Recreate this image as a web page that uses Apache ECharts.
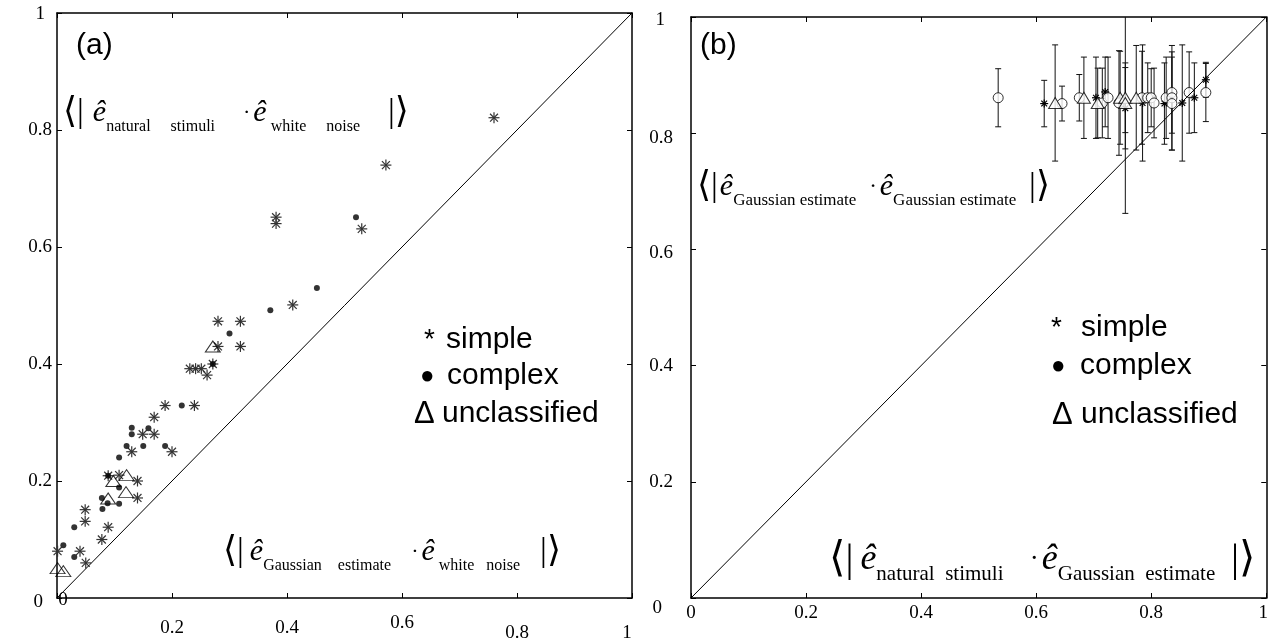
<!DOCTYPE html>
<html>
<head>
<meta charset="utf-8">
<script src="https://cdn.jsdelivr.net/npm/echarts@6/dist/echarts.min.js"></script>
<style>
html, body { margin: 0; padding: 0; background: #fff; }
#main { width: 1271px; height: 643px; }
</style>
</head>
<body>
<div id="main"></div>
<script>
'use strict';

// tick values (both panels)
var ticks = [0, 0.2, 0.4, 0.6, 0.8, 1];

// (a) white noise vs natural stimuli
var simpleA = [
    [0.760, 0.821], [0.572, 0.740], [0.381, 0.651], [0.381, 0.640], [0.530, 0.631], [0.410, 0.501],
    [0.280, 0.473], [0.319, 0.473], [0.280, 0.430], [0.319, 0.430],
    [0.231, 0.392], [0.241, 0.392], [0.251, 0.392], [0.261, 0.381], [0.271, 0.400],
    [0.188, 0.329], [0.239, 0.329], [0.169, 0.309], [0.149, 0.280], [0.169, 0.280],
    [0.130, 0.250], [0.200, 0.250], [0.089, 0.209], [0.108, 0.210], [0.140, 0.200], [0.140, 0.171],
    [0.049, 0.151], [0.049, 0.131], [0.089, 0.121], [0.078, 0.100], [0.040, 0.080], [0.001, 0.080], [0.050, 0.060]
];
var complexA = [
    [0.520, 0.651], [0.452, 0.530], [0.371, 0.492], [0.300, 0.452], [0.271, 0.400], [0.217, 0.329],
    [0.130, 0.291], [0.130, 0.280], [0.159, 0.290], [0.121, 0.260], [0.150, 0.260], [0.188, 0.260],
    [0.108, 0.240], [0.089, 0.209], [0.108, 0.189], [0.078, 0.171], [0.088, 0.162], [0.108, 0.161],
    [0.079, 0.152], [0.030, 0.121], [0.011, 0.090], [0.030, 0.070]
];
var unclassA = [
    [0.271, 0.430], [0.121, 0.210], [0.098, 0.200], [0.120, 0.181], [0.089, 0.170], [0.001, 0.051], [0.011, 0.046]
];

// (b) x, y, error
var simpleB = [
    [0.614, 0.851, 0.04], [0.704, 0.861, 0.07], [0.720, 0.871, 0.06], [0.755, 0.843, 0.07], [0.785, 0.852, 0.10],
    [0.823, 0.851, 0.07], [0.854, 0.852, 0.10], [0.875, 0.861, 0.06], [0.895, 0.892, 0.03]
];
var complexB = [
    [0.534, 0.861, 0.05], [0.645, 0.851, 0.03], [0.675, 0.861, 0.04], [0.715, 0.852, 0.06], [0.725, 0.861, 0.07],
    [0.744, 0.852, 0.09], [0.784, 0.861, 0.08], [0.794, 0.861, 0.06], [0.800, 0.861, 0.05], [0.805, 0.852, 0.06],
    [0.826, 0.861, 0.07], [0.836, 0.870, 0.07], [0.836, 0.861, 0.09], [0.836, 0.851, 0.08], [0.866, 0.870, 0.07],
    [0.895, 0.870, 0.05]
];
var unclassB = [
    [0.633, 0.852, 0.10], [0.683, 0.861, 0.07], [0.707, 0.852, 0.06], [0.746, 0.861, 0.08], [0.755, 0.861, 0.06],
    [0.755, 0.852, 0.19], [0.774, 0.861, 0.09]
];

var diag = [[0, 0], [1, 1]];

var serif = 'Liberation Serif';
var sans = 'Liberation Sans';

var myChart = echarts.init(document.getElementById('main'));

// 每个刻度标签单独的偏移
function labelRich(pads, align) {
    var rich = {};
    ticks.forEach(function(t, i) {
        rich['p' + i] = {
            fontFamily: serif, fontSize: 19, color: '#000', align: align,
            padding: pads[i]
        };
    });
    return rich;
}
function labelFmt(v) {
    var i = Math.round(v * 5);
    return '{p' + i + '|' + (+v.toFixed(1)) + '}';
}

var axLine = { onZero: false, lineStyle: { color: '#000', width: 1.5 } };
var axTick = { inside: true, length: 5, lineStyle: { color: '#000' } };

function xAxes(gi, pads, margin) {
    return [{
        gridIndex: gi, type: 'value', min: 0, max: 1, interval: 0.2, position: 'bottom',
        axisLine: axLine, axisTick: axTick, splitLine: { show: false },
        axisLabel: { margin: margin, formatter: labelFmt, rich: labelRich(pads, 'center'), showMinLabel: true, showMaxLabel: true }
    }, {
        gridIndex: gi, type: 'value', min: 0, max: 1, interval: 0.2, position: 'top',
        axisLine: axLine, axisTick: axTick, splitLine: { show: false }, axisLabel: { show: false }
    }];
}
function yAxes(gi, pads, margin) {
    return [{
        gridIndex: gi, type: 'value', min: 0, max: 1, interval: 0.2, position: 'left',
        axisLine: axLine, axisTick: axTick, splitLine: { show: false },
        axisLabel: { margin: margin, formatter: labelFmt, rich: labelRich(pads, 'right'), showMinLabel: true, showMaxLabel: true }
    }, {
        gridIndex: gi, type: 'value', min: 0, max: 1, interval: 0.2, position: 'right',
        axisLine: axLine, axisTick: axTick, splitLine: { show: false }, axisLabel: { show: false }
    }];
}

function starRender(r, color) {
    return function(params, api) {
        var p = api.coord([api.value(0), api.value(1)]);
        var d = r * 0.72;
        var segs = [[0, -r, 0, r], [-r, 0, r, 0], [-d, -d, d, d], [-d, d, d, -d]];
        return {
            type: 'group',
            children: segs.map(function(s) {
                return {
                    type: 'line',
                    shape: { x1: p[0] + s[0], y1: p[1] + s[1], x2: p[0] + s[2], y2: p[1] + s[3] },
                    style: { stroke: color, lineWidth: 1.2 }
                };
            })
        };
    };
}

function errRender(params, api) {
    var x = api.value(0), y = api.value(1), e = api.value(2);
    var t = api.coord([x, y + e]), b = api.coord([x, y - e]);
    var w = 3;
    return {
        type: 'group',
        children: [
            { type: 'line', shape: { x1: t[0], y1: t[1], x2: b[0], y2: b[1] }, style: { stroke: '#111', lineWidth: 1 } },
            { type: 'line', shape: { x1: t[0] - w, y1: t[1], x2: t[0] + w, y2: t[1] }, style: { stroke: '#111', lineWidth: 1 } },
            { type: 'line', shape: { x1: b[0] - w, y1: b[1], x2: b[0] + w, y2: b[1] }, style: { stroke: '#111', lineWidth: 1 } }
        ]
    };
}

// ⟨| ê_sub1 · ê_sub2 |⟩
function bracket(x, y, sub1, sub2, eSize, sSize, gap) {
    var lh = eSize + 14;
    return {
        type: 'text', x: x, y: y,
        style: {
            text: '{a|⟨}{v||}{e|ê}{s|' + sub1 + '}{d|·}{e|ê}{s|' + sub2 + '}{w||}{a|⟩}',
            verticalAlign: 'middle',
            fontFamily: serif, fontSize: sSize, fill: '#000',
            rich: {
                a: { fontFamily: 'DejaVu Serif', fontSize: eSize + 6, lineHeight: lh, verticalAlign: 'middle' },
                v: { fontFamily: serif, fontSize: eSize + 4, lineHeight: lh, verticalAlign: 'middle', padding: [0, gap, 0, 0] },
                w: { fontFamily: serif, fontSize: eSize + 4, lineHeight: lh, verticalAlign: 'middle' },
                e: { fontFamily: serif, fontStyle: 'italic', fontSize: eSize, lineHeight: lh, verticalAlign: 'middle' },
                d: { fontFamily: serif, fontSize: sSize + 6, lineHeight: lh, verticalAlign: 'middle', padding: [0, 3, 0, 0] },
                s: { fontFamily: serif, fontSize: sSize, lineHeight: sSize + 14, verticalAlign: 'bottom' }
            }
        }
    };
}

function legendText(x, y, glyph, label, glyphSize, glyphW) {
    return {
        type: 'text', x: x, y: y,
        style: {
            text: '{g|' + glyph + '}{t|' + label + '}',
            verticalAlign: 'middle',
            rich: {
                g: { fontFamily: sans, fontSize: glyphSize, width: glyphW, align: 'left', verticalAlign: 'middle' },
                t: { fontFamily: sans, fontSize: 30, verticalAlign: 'middle' }
            },
            fill: '#000'
        }
    };
}

var option = {
    animation: false,
    backgroundColor: '#fff',
    grid: [
        { left: 57, top: 13, width: 575, height: 586 },
        { left: 691, top: 17, width: 577, height: 581 }
    ],
    xAxis: xAxes(0, [[-2, 0, 0, 12], [26, 0, 0, 0], [26, 0, 0, 0], [21, 0, 0, 0], [31, 0, 0, 0], [31, 10, 0, 0]], -5)
        .concat(xAxes(1, [[0, 0, 0, 0], [0, 0, 0, 0], [0, 0, 0, 0], [0, 0, 0, 0], [0, 0, 0, 0], [0, 6, 0, 0]], 6)),
    yAxis: yAxes(0, [[8, 9, 0, 0], [0, 0, 0, 0], [0, 0, 0, 0], [0, 0, 0, 0], [0, 0, 0, 0], [2, 7, 0, 0]], 5)
        .concat(yAxes(1, [[20, 11, 0, 0], [0, 0, 0, 0], [0, 0, 0, 0], [8, 0, 0, 0], [10, 0, 0, 0], [6, 8, 0, 0]], 18)),
    series: [
        {
            type: 'line', xAxisIndex: 0, yAxisIndex: 0, data: diag, symbol: 'none',
            lineStyle: { color: '#000', width: 1 }, silent: true
        },
        {
            name: 'simple', type: 'custom', xAxisIndex: 0, yAxisIndex: 0, data: simpleA,
            renderItem: starRender(5.5, '#333')
        },
        {
            name: 'complex', type: 'scatter', xAxisIndex: 0, yAxisIndex: 0, data: complexA,
            symbol: 'circle', symbolSize: 6, itemStyle: { color: '#000' }
        },
        {
            name: 'unclassified', type: 'scatter', xAxisIndex: 0, yAxisIndex: 0, data: unclassA,
            symbol: 'triangle', symbolSize: [15, 11],
            itemStyle: { color: 'rgba(255,255,255,0)', borderColor: '#000', borderWidth: 1 }
        },
        {
            type: 'line', xAxisIndex: 2, yAxisIndex: 2, data: diag, symbol: 'none',
            lineStyle: { color: '#000', width: 1 }, silent: true
        },
        {
            type: 'custom', xAxisIndex: 2, yAxisIndex: 2, data: complexB, renderItem: errRender, clip: true
        },
        {
            type: 'custom', xAxisIndex: 2, yAxisIndex: 2, data: unclassB, renderItem: errRender, clip: true
        },
        {
            type: 'custom', xAxisIndex: 2, yAxisIndex: 2, data: simpleB, renderItem: errRender, clip: true
        },
        {
            name: 'complex', type: 'scatter', xAxisIndex: 2, yAxisIndex: 2, data: complexB,
            symbol: 'circle', symbolSize: 10,
            itemStyle: { color: '#fff', borderColor: '#000', borderWidth: 1 }
        },
        {
            name: 'unclassified', type: 'scatter', xAxisIndex: 2, yAxisIndex: 2, data: unclassB,
            symbol: 'triangle', symbolSize: [13, 11],
            itemStyle: { color: '#fff', borderColor: '#000', borderWidth: 1 }
        },
        {
            name: 'simple', type: 'custom', xAxisIndex: 2, yAxisIndex: 2, data: simpleB,
            renderItem: starRender(4, '#000')
        }
    ],
    graphic: [
        { type: 'text', x: 76, y: 46, style: { text: '(a)', fontFamily: sans, fontSize: 30, fill: '#000', verticalAlign: 'middle' } },
        { type: 'text', x: 700, y: 46, style: { text: '(b)', fontFamily: sans, fontSize: 30, fill: '#000', verticalAlign: 'middle' } },
        bracket(63, 113, 'natural     stimuli       ', ' white     noise       ', 30, 16, 9),
        bracket(223, 552, 'Gaussian    estimate     ', ' white   noise     ', 30, 16, 6),
        bracket(697, 187, 'Gaussian estimate   ', 'Gaussian estimate   ', 30, 17, 2),
        bracket(829, 560, 'natural  stimuli     ', 'Gaussian  estimate   ', 36, 21, 7),
        legendText(424, 340, '*', 'simple', 28, 22),
        legendText(420, 376, '●', 'complex', 24, 27),
        legendText(414, 414, 'Δ', 'unclassified', 31, 28),
        legendText(1051, 328, '*', 'simple', 28, 30),
        legendText(1051, 366, '●', 'complex', 24, 29),
        legendText(1052, 415, 'Δ', 'unclassified', 31, 29)
    ]
};

myChart.setOption(option);
</script>
</body>
</html>
